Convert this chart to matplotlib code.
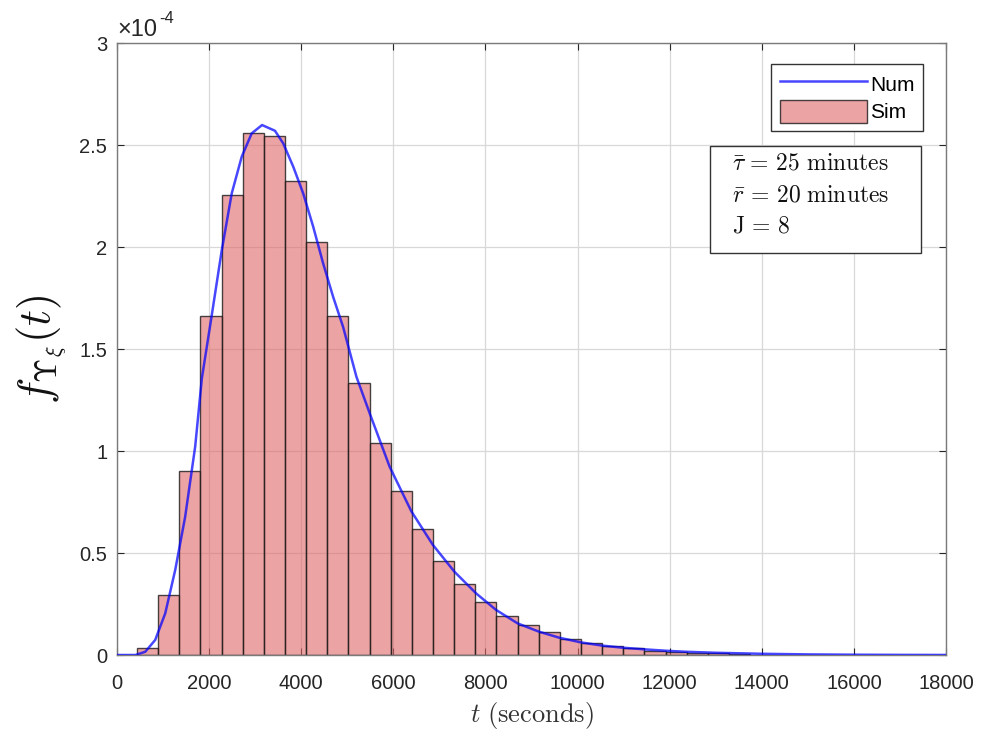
import matplotlib
matplotlib.use('Agg')
import matplotlib.pyplot as plt
from matplotlib.patches import Rectangle
import numpy as np

plt.rcParams['font.family'] = ['Liberation Sans', 'DejaVu Sans']
plt.rcParams['mathtext.fontset'] = 'cm'

# histogram (Sim), heights in units of 1e-4
bin_start = 435
bin_width = 459
sim_heights = [0.036, 0.294, 0.903, 1.662, 2.255, 2.557, 2.544, 2.325, 2.023, 1.663,
               1.332, 1.040, 0.806, 0.617, 0.461, 0.348, 0.261, 0.191, 0.147, 0.111,
               0.078, 0.057, 0.044, 0.036, 0.021, 0.016, 0.012, 0.009, 0.006]

# numerical pdf (Num)
t_num = [0, 400, 615, 831, 1048, 1265, 1481, 1698, 1843, 2059, 2276, 2492, 2709, 2925,
         3150, 3430, 3610, 3827, 4043, 4260, 4476, 4693, 4909, 5199, 5487, 5920, 6390,
         6858, 7328, 7798, 8231, 8699, 9168, 9601, 10071, 10539, 10972, 11442, 11912,
         12345, 13000, 14000, 15000, 16000, 17000, 18000]
f_num = [0, 0.0, 0.016, 0.074, 0.204, 0.417, 0.678, 1.021, 1.356, 1.667, 1.985, 2.263,
         2.443, 2.557, 2.598, 2.570, 2.508, 2.394, 2.263, 2.100, 1.920, 1.756, 1.609,
         1.364, 1.185, 0.923, 0.705, 0.540, 0.408, 0.302, 0.221, 0.155, 0.114, 0.085,
         0.062, 0.046, 0.036, 0.028, 0.021, 0.016, 0.011, 0.006, 0.003, 0.0015, 0.0007,
         0.0003]

info_lines = [r'$\bar{\tau}\,=\,25\ \mathrm{minutes}$',
              r'$\bar{r}\,=\,20\ \mathrm{minutes}$',
              r'$\mathrm{J}\,=\,8$']

fig = plt.figure(figsize=(9.87, 7.33), dpi=100)
ax = fig.add_axes([0.1185, 0.1064, 0.840, 0.8349])

edges = bin_start + bin_width * np.arange(len(sim_heights))
ax.bar(edges, sim_heights, width=bin_width, align='edge',
       facecolor=(0.88, 0.40, 0.40, 0.6), edgecolor=(0.1, 0.1, 0.1, 0.8),
       linewidth=1.0, label='Sim', zorder=2)
ax.plot(t_num, f_num, color=(0.0, 0.0, 1.0, 0.72), lw=1.8, label='Num', zorder=3)

ax.set_xlim(0, 18000)
ax.set_ylim(0, 3)
ax.set_xticks(np.arange(0, 18001, 2000))
ax.set_yticks([0, 0.5, 1, 1.5, 2, 2.5, 3])
ax.set_yticklabels(['0', '0.5', '1', '1.5', '2', '2.5', '3'])
ax.grid(True, color='#d8d8d8', lw=0.9, zorder=0)
ax.set_axisbelow(True)
ax.tick_params(direction='in', length=5, labelsize=14.5, colors='#262626',
               top=True, right=True, width=0.8)
ax.tick_params(axis='x', pad=14)
ax.tick_params(axis='y', pad=7)
for s in ax.spines.values():
    s.set_color('#7a7a7a')
    s.set_linewidth(1.0)

ax.set_xlabel(r'$t\ \mathrm{(seconds)}$', fontsize=19, color='#333333', labelpad=5)
ax.set_ylabel(r'$f_{\Upsilon_{\xi}}(t)$', fontsize=32, color='#111111', labelpad=8)

# MATLAB-style exponent label
fig.text(0.1186, 0.951, '\u00d710', fontsize=17, color='#262626',
         ha='left', va='baseline')
fig.text(0.1615, 0.968, '-4', fontsize=12, color='#262626',
         ha='left', va='baseline')

leg = ax.legend(loc='upper right', bbox_to_anchor=(0.9725, 0.966), fontsize=15,
                fancybox=False, framealpha=1, edgecolor='#333333', handlelength=4.2,
                handleheight=1.3, handletextpad=0.15, borderpad=0.4,
                labelspacing=0.25, borderaxespad=0)
leg.get_frame().set_linewidth(1.0)

# info box
ax.add_patch(Rectangle((0.715, 0.657), 0.2545, 0.1748, transform=ax.transAxes,
                       facecolor='white', edgecolor='#333333', lw=1.0, zorder=5))
for i, s in enumerate(info_lines):
    ax.text(0.742, 0.803 - i * 0.0515, s, transform=ax.transAxes, fontsize=17,
            va='center', ha='left', color='#111111', zorder=6)

fig.savefig('out.png', dpi=100)
